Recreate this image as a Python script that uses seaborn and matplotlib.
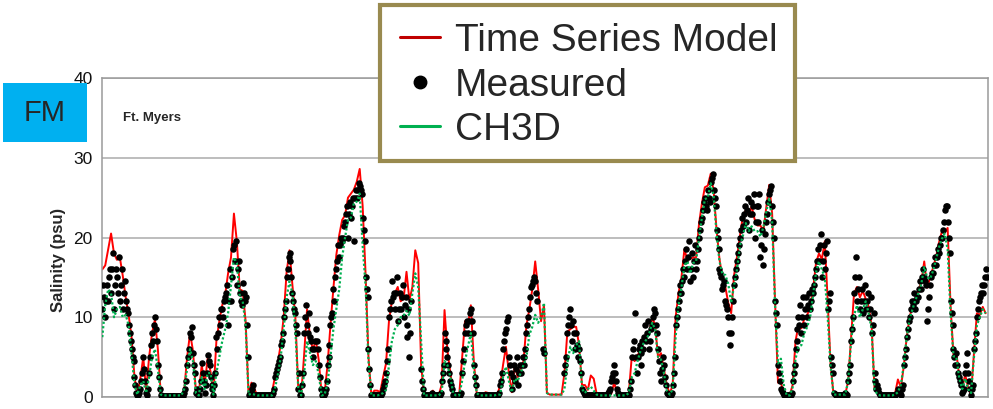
import numpy as np
import pandas as pd
import matplotlib
matplotlib.use("Agg")
import matplotlib.pyplot as plt
from matplotlib.patches import Rectangle
from matplotlib.lines import Line2D
import seaborn as sns

# ---------------- data ----------------
station = "Ft. Myers"
station_code = "FM"
series_names = ["Time Series Model", "Measured", "CH3D"]
y_ticks = [0, 10, 20, 30, 40]
n_years = 15.14               # length of the record shown (years)
model_step = 0.05             # model / CH3D sampling interval (years)
measured_step = 0.05 / 3      # measured sampling interval (years)

time_series_model = [
    16.0,16.5,18.5,20.5,18.0,17.2,17.5,15.2,12.5,10.3,7.5,2.5,0.3,2.3,5.0,0.8,5.0,8.0,9.7,6.0,
    0.3,0.1,0.1,0.1,0.1,0.1,0.1,0.2,0.8,5.0,8.0,5.8,0.7,0.5,4.0,1.5,4.8,3.2,0.3,7.0,
    9.5,11.5,12.8,15.5,17.5,23.0,19.5,13.5,13.3,9.5,0.3,1.8,1.0,0.2,0.2,0.2,0.2,0.2,0.5,2.5,
    4.3,6.6,10.0,15.6,18.4,14.0,10.0,1.0,0.3,5.3,11.0,7.6,5.9,7.2,4.6,0.3,0.5,4.0,9.0,13.6,
    17.8,20.3,22.2,22.8,25.0,25.5,26.0,27.0,28.6,24.0,15.5,5.0,0.2,0.8,0.8,0.6,2.5,4.2,9.5,12.0,
    13.0,13.8,12.0,12.3,15.7,12.1,13.8,18.4,16.8,4.0,0.3,0.2,0.3,0.8,0.2,0.2,1.5,10.9,5.8,3.0,
    0.4,0.2,0.2,4.8,9.5,9.0,11.5,4.5,0.5,0.2,0.2,0.6,0.5,0.2,0.2,0.3,1.4,4.0,6.3,3.0,
    0.6,4.0,2.5,3.5,4.5,9.0,11.0,13.5,17.0,13.5,9.5,11.5,0.5,0.3,0.3,0.3,0.3,0.3,3.0,8.2,
    8.5,8.8,8.8,6.5,1.5,1.5,0.9,2.7,2.3,0.4,0.2,0.2,0.2,0.2,0.4,1.8,0.5,0.2,0.2,0.2,
    0.5,5.0,4.5,5.2,6.0,7.0,8.0,8.0,10.0,9.0,5.0,5.5,3.5,1.5,0.4,1.5,10.0,13.0,15.0,18.5,
    17.2,17.3,17.5,17.5,21.7,24.3,26.3,26.5,28.0,25.8,21.0,17.3,14.9,13.8,11.8,10.5,15.3,17.6,20.2,22.7,
    23.4,22.8,23.9,22.3,21.5,21.5,20.8,23.8,26.6,23.0,12.0,1.8,1.8,0.4,0.2,0.2,1.5,7.0,9.0,8.6,
    9.8,10.3,11.3,13.5,16.8,18.0,17.3,19.5,12.0,4.0,0.3,0.2,0.2,0.3,0.3,2.0,7.5,13.0,13.8,12.5,
    13.3,12.3,11.3,9.0,1.0,1.3,0.3,0.2,0.2,0.2,0.2,0.4,2.2,1.2,3.8,7.5,10.0,11.5,12.2,13.4,
    14.4,17.0,13.7,15.0,16.2,17.5,19.3,20.7,20.6,21.2,11.5,5.1,5.5,2.5,1.1,2.8,1.2,0.3,5.5,10.5,
    10.3,11.3,10.5,
]

ch3d = [
    7.5,11.5,13.5,13.0,10.0,11.0,11.3,10.0,10.3,9.0,5.5,1.5,0.3,1.5,2.0,0.5,2.5,5.0,6.0,3.5,
    0.3,0.2,0.2,0.2,0.2,0.2,0.2,0.2,1.0,3.5,6.0,4.5,0.5,0.2,2.5,1.0,3.0,3.0,0.3,3.0,
    5.0,7.0,8.5,10.5,14.0,17.5,16.8,12.5,12.0,9.0,0.3,0.4,0.3,0.2,0.2,0.2,0.2,0.2,0.2,1.0,
    2.8,5.0,8.5,12.5,14.5,13.0,8.5,1.0,0.2,3.0,7.0,5.5,4.0,4.5,2.8,0.2,0.3,1.7,5.0,8.5,
    11.0,13.5,17.5,20.0,22.2,22.5,24.3,24.5,25.5,19.0,14.0,4.5,0.2,0.2,0.2,0.3,0.5,0.9,4.0,7.0,
    8.5,9.0,10.0,10.2,10.8,10.2,13.0,15.5,13.8,7.0,0.2,0.2,0.2,0.2,0.2,0.2,0.5,4.5,4.0,2.5,
    0.4,0.2,0.2,2.0,4.5,6.3,8.0,3.5,0.5,0.2,0.2,0.2,0.2,0.2,0.2,0.3,0.3,2.5,3.8,2.0,
    0.6,2.3,2.0,3.0,4.0,5.0,7.8,8.8,10.3,9.3,10.0,11.8,0.5,0.3,0.3,0.3,0.3,0.3,1.0,4.3,
    6.3,5.5,6.5,7.0,1.0,0.5,1.0,1.3,0.8,0.3,0.2,0.2,0.2,0.2,0.2,0.2,0.2,0.2,0.2,0.2,
    0.5,2.5,3.0,4.5,5.8,6.7,7.2,8.0,9.3,8.5,5.0,4.7,3.0,0.8,0.3,1.0,7.5,11.5,13.7,16.5,
    17.0,15.5,16.8,17.0,20.0,22.5,24.8,25.0,26.8,25.2,20.5,17.0,15.4,15.3,14.2,11.8,14.0,16.0,19.0,20.2,
    21.8,20.8,21.4,20.8,20.8,20.1,21.3,23.2,25.0,22.0,11.5,4.2,4.8,1.5,0.2,0.2,1.2,4.8,6.3,6.5,
    8.0,8.8,10.0,12.8,15.6,17.0,16.0,15.0,10.0,3.8,0.3,0.3,0.3,0.3,0.3,2.0,7.0,10.2,11.5,10.0,
    11.0,12.0,10.5,8.5,1.0,0.3,0.2,0.2,0.2,0.2,0.2,0.3,0.6,1.5,4.0,7.5,9.8,11.0,12.2,13.0,
    14.2,16.3,15.0,14.8,15.8,17.2,18.7,19.8,20.5,18.5,10.5,5.1,5.0,2.3,1.0,2.3,1.0,0.5,5.0,9.0,
    10.0,11.0,10.5,
]

nan = float("nan")
measured = [
    # year 0
    11,14,12.5, 10,12,14, 12,15,16, 13,16,18, 11,14,16, 15,13,17.5, 12,14,16, 11,13,14.5,
    12,11,10.5, 9,8,7, 6,5,4.5, 2.5,1.5,0.5, 0.2,0.3,0.5, 1,2,3, 5,3.5,2, 0.5,0.3,1,
    3,5,6.5, 8,7,9, 10,8.5,7, 4,2.5,1,
    # year 1
    0.2,0.1,0.1, 0.1,0.1,0.1, 0.1,0.1,0.1, 0.1,0.1,0.1, 0.1,0.1,0.1, 0.1,0.1,0.1,
    0.1,0.1,0.1, 0.1,0.1,0.1, 0.5,1,2, 4,5,6, 8,7.5,8.8, 5.5,4,3, 0.5,1,0.3, 0.3,1,2,
    4.3,3,2, 0.5,1.5,3, 5.3,4.5,4, 2.5,1.5,1, 0.3,1.5,3, 7.5,6,8,
    # year 2
    10,9,11, 11,10,12, 12.5,13,14, 9,12,16, 12,15,18.5, 19,17,19.5, 14,16,17, 13,12,11.5,
    14.3,13,12, 12.5,9,5, 0.3,0.5,0.2, 0.5,1,1.5, 0.3,0.2,0.2, 0.2,0.2,0.2, 0.2,0.2,0.2,
    0.2,0.2,0.2, 0.2,0.2,0.2, 0.2,0.2,0.2, 0.3,0.5,1, 2.5,3,3.5,
    # year 3
    4,4.5,5, 6.5,7,8, 10,11,12, 15,16,17.5, 18,17,15, 13,12,11, 10.5,9,8, 1,3,0.3,
    0.3,1.5,3, 8,10,11.5, 9,8,10.5, 7.5,7,6, 5,6,7, 8.5,7,6, 4,2.5,1, 0.3,0.2,0.2,
    0.5,1,2, 4,5,6.5, 9,10,10.5, 13.5,12,15,
    # year 4
    16,17,19, 17.5,19,20, 19.5,20,21.5, 22,23,24, 20,23,24.5, 22.5,24,25, 19.5,25,26,
    25,26,26.8, 26.5,26,25.5, 22.5,21,19.5, 15,13.5,12.5, 6,3.5,1.5, 0.3,0.2,0.2,
    0.2,0.2,0.3, 0.2,0.2,0.3, 0.2,0.3,0.5, 1,1.5,2, 3,4.5,6, 10,11,12, 14.5,12.5,13,
    # year 5
    11,13,15, 9.5,11,13, 11,12.5,14, 10,11.5,12.5, 7.5,9,11, 5,8,12, nan,nan,nan,
    nan,nan,nan, nan,nan,nan, 3.5,2,1, 0.3,0.2,0.2, 0.2,0.2,0.3, 0.3,0.3,0.5, 0.3,0.2,0.2,
    0.3,0.2,0.2, 0.3,0.3,0.5, 2,3,4, 8,7,6, 5,4,3, 2,1.5,1,
    # year 6
    0.3,0.2,0.2, 0.2,0.2,0.2, 0.2,0.3,0.5, 3,4.5,6, 8,9,9.5, 8,9.5,10.5, 11,9.5,8,
    4,2.5,1.5, 0.3,0.2,0.2, 0.2,0.2,0.2, 0.2,0.2,0.2, 0.2,0.2,0.2, 0.2,0.2,0.2,
    0.2,0.2,0.2, 0.2,0.2,0.2, 0.3,0.3,0.5, 1.5,2,3, 6,7,8, 8.5,9.5,10, 5,4,3,
    # year 7
    1,2.5,4, 2,3.5,5, 1.5,3,4, 3,4,5, 4,5,6, 8,9,10, 11,12.5,13.8, 14,14.5,15,
    14.5,13,12, nan,nan,nan, nan,nan,6, 5.5,nan,nan, nan,nan,nan, nan,nan,nan,
    nan,nan,nan, nan,nan,nan, nan,nan,nan, nan,nan,nan, 3,4,5, 8,9,10,
    # year 8
    11,9,7, 9.5,8,6, 8,6.5,5, 6,4.5,3, 1,0.7,0.5, 0.3,0.2,0.2, 0.3,0.2,0.2, 0.2,0.2,0.3,
    0.2,0.2,0.2, 0.2,0.2,0.3, 0.2,0.2,0.2, 0.3,0.2,0.2, 0.2,0.2,0.3, 0.5,0.7,1,
    2,2.5,3, 4,3,2, 1,0.5,0.3, 0.2,0.2,0.2, 0.3,0.2,0.2, 0.2,0.2,0.3,
    # year 9
    0.3,1,2, 5,6,7, 10.5,5,3, 5,6,6.5, 4,5.5,7, 6,7.5,9, 7,8,9.5, 6,7,8.5, 9,10,11,
    10.5,9,8, 6,4.5,3, 2,3.5,5, 4,2.5,1.5, 0.5,0.4,0.3, 0.2,0.3,0.5, 1.5,3,5,
    9,10,11, 12,13,14, 13,14.5,16, 15,17,18.5,
    # year 10
    16,17.5,19.5, 14.5,16,18, 15,17,19, 16,17,18.5, 20,21,22, 22.5,23.5,24.5, 25,24,23.5,
    26,25,24.5, 27,27.5,28, 26,25,24, 21,20,18.5, 16,15.5,15, 13.5,14,14.5, 12,11.5,11,
    10,8,6.5, 8,10,12, 14,15,16, 17,18,19, 20,21,22.5, 21.5,23,24,
    # year 11
    22,23.5,25, 21,23,24.5, 23,24,25.5, 20,22,24, 22,24,25.5, 17.5,19,21, 16.5,18.5,20.5,
    22,23,24.5, 25.5,26,26.5, 24,22,20, 12,10.5,9, 4,3,2, 1,0.7,0.5, 0.3,0.2,0.2,
    0.2,0.2,0.3, 0.2,0.3,0.5, 2,3,4, 6,7,8.5, 10,9,11.5, 8,10,12.5,
    # year 12
    9,11,12.5, 10,11.5,13, 11,12,13.5, 13,14,15, 16,17,18.5, 17,19,20.5, 15,17,19,
    16,18,19.5, 11,12,13, 5,4,3, 0.5,0.4,0.3, 0.2,0.2,0.3, 0.2,0.2,0.2, 0.3,0.2,0.2,
    0.5,0.4,0.3, 2,3,4, 7,8.5,10, 13,15,17.5, 12,13.5,15, 11,12,13.5,
    # year 13
    10.5,12,14, 11,12,13, 10,11,12.5, 8,9,10.5, 3,2,1, 1.5,1,0.5, 0.2,0.2,0.3,
    0.2,0.2,0.2, 0.2,0.2,0.2, 0.2,0.2,0.2, 0.2,0.2,0.2, 0.3,0.4,0.5, 1,0.7,0.5,
    0.3,1,1.5, 4,5,6, 7.5,8.5,9.5, 10,11,12, 11.5,12,13, 11,12,12.5, 12.5,13.5,14.5,
    # year 14
    13.5,15,16, 15,14.5,14, 9.5,11,12.5, 14,15,15.5, 15.5,16.5,17.5, 16.5,17.5,18.5,
    18,19,20, 20,21,22, 23.5,24,24, 22,20,18, 12,10.5,9, 6,5,4, 5.5,4,3, 2.5,2,1.5,
    0.5,0.7,1, 3,4,5.5, 3,2,1, 0.3,1,1.5, 6,7,8, 10,11,12,
    # year 15
    12.5,13,14, 13,14,15, 16,15,nan,
]

# ---------------- frames ----------------
model_time = np.arange(len(time_series_model)) * model_step
measured_time = np.arange(len(measured)) * measured_step
df_model = pd.DataFrame({"year": model_time, "salinity": time_series_model})
df_ch3d = pd.DataFrame({"year": model_time, "salinity": ch3d})
df_meas = pd.DataFrame({"year": measured_time, "salinity": measured}).dropna()

# ---------------- style ----------------
sns.set_style("white")
plt.rcParams["font.family"] = ["Liberation Sans", "DejaVu Sans"]

W, H = 993, 409
fig = plt.figure(figsize=(W / 100, H / 100), dpi=100)
ax = fig.add_axes([102.3 / W, (H - 397) / H, (988 - 102.3) / W, (397 - 78) / H])

grid_c = "#ABABAB"
sns.lineplot(data=df_model, x="year", y="salinity", ax=ax, color="#FF0000",
             lw=1.4, zorder=2, legend=False)
sns.scatterplot(data=df_meas, x="year", y="salinity", ax=ax, color="black",
                s=22, linewidth=0, zorder=3, legend=False)
sns.lineplot(data=df_ch3d, x="year", y="salinity", ax=ax, color="#00B050",
             lw=1.6, linestyle=(0, (1, 1)), zorder=4, legend=False)

ax.set_xlim(0, n_years)
ax.set_ylim(0, 40)
ax.set_yticks(y_ticks)
ax.set_xticks(range(0, 16))
ax.set_xticklabels([])
ax.set_xlabel("")
ax.set_ylabel("")
ax.yaxis.grid(True, color=grid_c, lw=1.1)
ax.xaxis.grid(False)
ax.set_axisbelow(True)
for s in ax.spines.values():
    s.set_visible(True)
    s.set_color("#9A9A9A")
    s.set_linewidth(1.1)
ax.tick_params(axis="y", direction="out", length=4, width=1, color="#9A9A9A",
               labelsize=12.5, pad=3, labelcolor="#111111")
ax.tick_params(axis="x", direction="out", length=5, width=1, color="#9A9A9A")

ax.text(0.023, 0.875, station, transform=ax.transAxes, fontsize=9.5,
        fontweight="bold", va="center", ha="left")
fig.text(58 / W, (H - 260) / H, "Salinity (psu)", rotation=90, fontsize=12,
         fontweight="bold", ha="center", va="center")

# FM badge
fig.add_artist(Rectangle((3 / W, (H - 142) / H), 84 / W, 59 / H,
                         transform=fig.transFigure, facecolor="#00B0F0",
                         edgecolor="none", zorder=5))
fig.text(45 / W, (H - 113) / H, station_code, fontsize=21, ha="center",
         va="center", zorder=6)

# legend box
fig.add_artist(Rectangle((380 / W, (H - 161) / H), 415 / W, 156 / H,
                         transform=fig.transFigure, facecolor="white",
                         edgecolor="#998A4F", lw=3, zorder=5))
handles = [
    Line2D([], [], color="#C00000", lw=2.2),
    Line2D([], [], color="black", marker="o", ls="", markersize=9),
    Line2D([], [], color="#00B050", lw=2.2),
]
leg = fig.legend(handles, series_names, loc="upper left",
                 bbox_to_anchor=(400 / W, 1 - 23 / H), frameon=False,
                 fontsize=28, handlelength=1.03, handletextpad=0.39,
                 labelspacing=0.22, borderpad=0, borderaxespad=0)
leg.set_zorder(6)

fig.savefig("out.png", dpi=100)
